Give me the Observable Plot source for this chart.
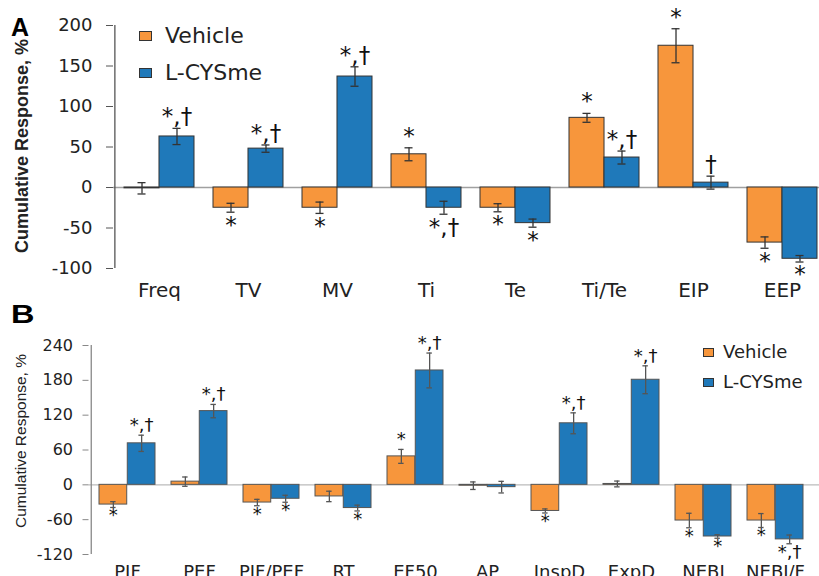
<!DOCTYPE html>
<html>
<head>
<meta charset="utf-8">
<script src="https://cdn.jsdelivr.net/npm/d3@7"></script>
<script src="https://cdn.jsdelivr.net/npm/@observablehq/plot@0.6"></script>
<style>
  html, body { margin: 0; padding: 0; background: #fff; }
  #wrap { position: relative; width: 819px; height: 576px; overflow: hidden; font-family: "DejaVu Sans", sans-serif; color: #222; }
  .abs { position: absolute; }
  .letter { font-family: "Liberation Sans", Arial, sans-serif; font-weight: bold; color: #000; }
  .ylab { font-family: "Liberation Sans", Arial, sans-serif; transform: translate(-50%, -50%) rotate(-90deg); white-space: nowrap; color: #222; }
  .leg { display: flex; align-items: center; white-space: nowrap; }
  .sw { display: inline-block; box-sizing: border-box; border: 1px solid #333; }
</style>
</head>
<body>
<div id="wrap">
  <div id="B" class="abs" style="left:0;top:300px"></div>
  <div id="A" class="abs" style="left:0;top:0"></div>
</div>
<script>
// ---------- Panel A data ----------
const catsA = ["Freq", "TV", "MV", "Ti", "Te", "Ti/Te", "EIP", "EEP"];
const vehA = [-1, -25, -25, 41, -25, 86, 175, -68];
const vehAErr = [7, 5.5, 7, 8, 5, 5.5, 21, 7];
const cysA = [63, 48, 137, -25, -44, 37, 6, -88];
const cysAErr = [10, 4.5, 12, 8, 5, 8, 8, 4];
const sigVehA = ["", "*", "*", "*", "*", "*", "*", "*"];
const sigCysA = ["*,†", "*,†", "*,†", "*,†", "*", "*,†", "†", "*"];
const ticksA = [-100, -50, 0, 50, 100, 150, 200];

// ---------- Panel B data ----------
const catsB = ["PIF", "PEF", "PIF/PEF", "RT", "EF50", "AP", "InspD", "ExpD", "NEBI", "NEBI/F"];
const vehB = [-34, 5.5, -30.5, -20, 49, -1.5, -45, 1.5, -61.5, -61.5];
const vehBErr = [5, 8, 5.5, 9, 12, 6.5, 3.5, 5, 12.5, 12];
const cysB = [71.5, 127, -24, -40, 197, -4, 106, 181, -89, -94];
const cysBErr = [14, 11.5, 6, 5, 30, 10, 18, 24, 3, 7.5];
const sigVehB = ["*", "", "*", "", "*", "", "*", "", "*", "*"];
const sigCysB = ["*,†", "*,†", "*", "*", "*,†", "", "*,†", "*,†", "*", "*,†"];
const ticksB = [-120, -60, 0, 60, 120, 180, 240];

const series = ["Vehicle", "L-CYSme"];
const colors = ["#F7963C", "#1F79BA"];

function rows(cats, vals, errs, sigs) {
  return cats.map((c, i) => ({cat: c, v: vals[i], e: errs[i], s: sigs[i]}));
}

function panel(cfg) {
  const {cats, veh, vehErr, cys, cysErr, sigVeh, sigCys, ticks, height, mt, mb, range, pad,
         tickSize, tickPadding, yFont, xFont, xPad, annFont, barStroke, errStroke, axisStroke,
         zeroStroke, zeroWidth, capW, dyUp, dyDown} = cfg;
  const step = (range[1] - range[0]) / cats.length;
  const bw = step * (1 - pad);
  const V = rows(cats, veh, vehErr, sigVeh);
  const C = rows(cats, cys, cysErr, sigCys);
  const marks = [];
  const sets = [[V, colors[0], -bw / 4, {insetRight: bw / 2}], [C, colors[1], bw / 4, {insetLeft: bw / 2}]];
  marks.push(Plot.ruleY([0], {stroke: zeroStroke, strokeWidth: zeroWidth}));
  for (const [D, col, off, ins] of sets) {
    marks.push(Plot.barY(D, {x: "cat", y: "v", fill: col, stroke: barStroke, strokeWidth: 1, ...ins}));
  }
  for (const [D, col, off] of sets) {
    marks.push(Plot.ruleX(D, {x: "cat", y1: d => d.v - d.e, y2: d => d.v + d.e, dx: off, stroke: errStroke, strokeWidth: 1.3}));
    marks.push(Plot.tickY(D, {x: "cat", y: d => d.v + d.e, dx: off, stroke: errStroke, strokeWidth: 1.3, insetLeft: (bw - capW) / 2, insetRight: (bw - capW) / 2}));
    marks.push(Plot.tickY(D, {x: "cat", y: d => d.v - d.e, dx: off, stroke: errStroke, strokeWidth: 1.3, insetLeft: (bw - capW) / 2, insetRight: (bw - capW) / 2}));
    marks.push(Plot.text(D.filter(d => d.s && d.v >= 0), {x: "cat", y: d => d.v + d.e, text: "s", dx: off, dy: dyUp, lineAnchor: "bottom", fontSize: annFont, fill: "#111", fontFamily: "DejaVu Sans"}));
    marks.push(Plot.text(D.filter(d => d.s && d.v < 0), {x: "cat", y: d => d.v - d.e, text: "s", dx: off, dy: dyDown, lineAnchor: "top", fontSize: annFont, fill: "#111", fontFamily: "DejaVu Sans"}));
  }
  // y axis line along the left edge of the first band step
  marks.push(Plot.ruleX([cats[0]], {x: d => d, y1: ticks[0], y2: ticks[ticks.length - 1], dx: -step / 2, stroke: axisStroke, strokeWidth: 1.3}));
  marks.push(Plot.axisY({ticks, tickSize, tickPadding, tickFormat: d => String(d), fontSize: yFont, stroke: axisStroke, fill: "#222", label: null, fontFamily: "DejaVu Sans"}));
  marks.push(Plot.axisX({tickSize: 0, tickPadding: xPad, fontSize: xFont, fill: "#222", label: null, fontFamily: "DejaVu Sans"}));
  return Plot.plot({
    width: 819, height, marginTop: mt, marginBottom: mb, marginLeft: range[0], marginRight: 0,
    style: {background: "transparent", overflow: cfg.overflow},
    x: {domain: cats, range, paddingInner: pad, paddingOuter: pad / 2, align: 0.5},
    y: {domain: [ticks[0], ticks[ticks.length - 1]]},
    marks
  });
}

document.getElementById("A").append(panel({
  cats: catsA, veh: vehA, vehErr: vehAErr, cys: cysA, cysErr: cysAErr, sigVeh: sigVehA, sigCys: sigCysA,
  ticks: ticksA, height: 300, mt: 25, mb: 32, range: [113, 827], pad: 0.216,
  tickSize: 7, tickPadding: 14, yFont: 18, xFont: 20, xPad: 14, annFont: 23,
  barStroke: "#333", errStroke: "#333", axisStroke: "#555", zeroStroke: "#a0a0a0", zeroWidth: 1.6,
  capW: 8, dyUp: -4, dyDown: 4, overflow: "visible"
}));

document.getElementById("B").append(panel({
  cats: catsB, veh: vehB, vehErr: vehBErr, cys: cysB, cysErr: cysBErr, sigVeh: sigVehB, sigCys: sigCysB,
  ticks: ticksB, height: 276, mt: 45, mb: 22, range: [88.5, 813.5], pad: 0.22,
  tickSize: 6, tickPadding: 10, yFont: 16, xFont: 18, xPad: 11, annFont: 18,
  barStroke: "#555", errStroke: "#555", axisStroke: "#888", zeroStroke: "#bbb", zeroWidth: 1.2,
  capW: 6, dyUp: -4, dyDown: 1, overflow: "hidden"
}));

// ---------- static text: panel letters, y labels, legends ----------
const wrap = document.getElementById("wrap");
function addDiv(html, style, cls) {
  const d = document.createElement("div");
  d.className = "abs " + (cls || "");
  d.setAttribute("style", style);
  d.innerHTML = html;
  wrap.append(d);
  return d;
}
addDiv("A", "left:11px;top:15px;font-size:25px;line-height:1", "letter");
addDiv("B", "left:11px;top:302px;font-size:25px;line-height:1;transform:scaleX(1.3);transform-origin:left top", "letter");
addDiv("Cumulative Response, %", "left:22px;top:146px;font-size:18px;font-weight:bold", "ylab");
addDiv("Cumulative Response, %", "left:21px;top:441px;font-size:15.5px", "ylab");

function legend(x, y0, y1, sw, swh, font, gap) {
  series.forEach((s, i) => {
    addDiv(`<span class="sw" style="width:${sw}px;height:${swh}px;background:${colors[i]}"></span><span style="margin-left:${gap}px">${s}</span>`,
      `left:${x}px;top:${[y0, y1][i]}px;font-size:${font}px;height:0;line-height:0`, "leg");
  });
}
legend(139, 36, 73, 13, 10, 22, 13);
legend(703, 352, 382, 11, 9, 18, 9);
</script>
</body>
</html>
